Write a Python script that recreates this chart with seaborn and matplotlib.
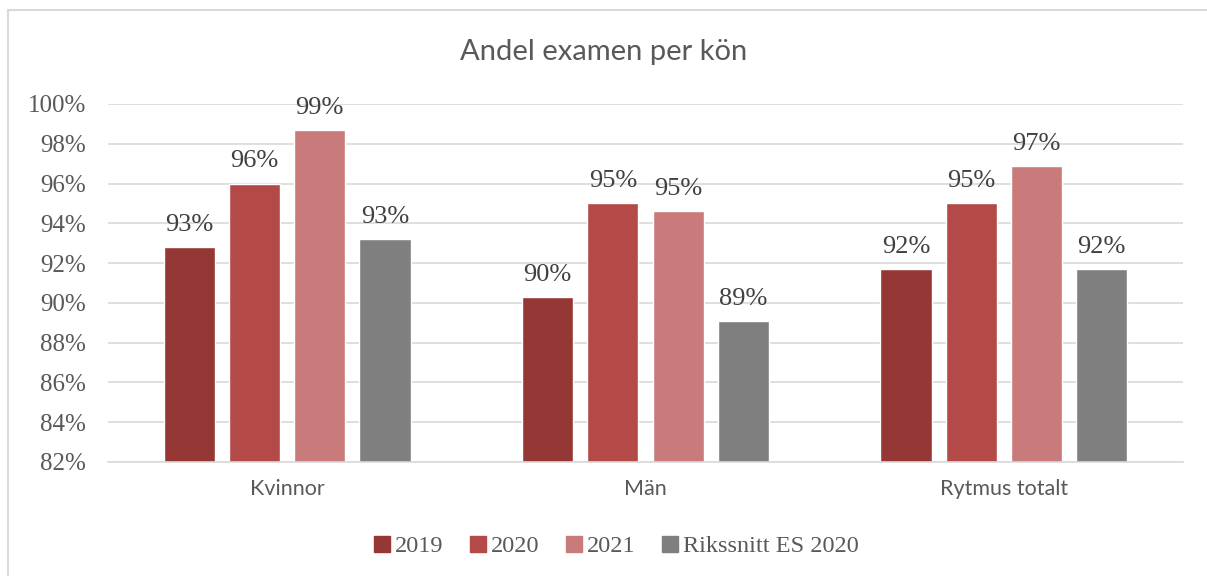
import pandas as pd
import seaborn as sns
import matplotlib.pyplot as plt
from matplotlib.patches import Rectangle
from matplotlib.lines import Line2D
from matplotlib.ticker import FuncFormatter

categories = ['Kvinnor', 'Män', 'Rytmus totalt']
series_names = ['2019', '2020', '2021', 'Rikssnitt ES 2020']
values_2019 = [92.8, 90.3, 91.7]
values_2020 = [96.0, 95.0, 95.0]
values_2021 = [98.7, 94.6, 96.9]
values_riks = [93.2, 89.1, 91.7]
y_ticks = [82, 84, 86, 88, 90, 92, 94, 96, 98, 100]

colors = ['#953735', '#B34A48', '#C97B7B', '#7F7F7F']
text_color = '#595959'
grid_color = '#D9D9D9'

table_data = {'kategori': [], 'serie': [], 'andel': []}
for name, vals in zip(series_names, [values_2019, values_2020, values_2021, values_riks]):
  for cat, v in zip(categories, vals):
    table_data['kategori'].append(cat)
    table_data['serie'].append(name)
    table_data['andel'].append(v)
df = pd.DataFrame(table_data)

sns.set_style('white')
plt.rcParams['font.family'] = ['Liberation Serif', 'DejaVu Serif']

fig = plt.figure(figsize=(12.07, 5.76), dpi=100)
ax = fig.add_axes([108/1207, 1-462/576, (1183-108)/1207, (462-104)/576])

sns.barplot(data=df, x='kategori', y='andel', hue='serie', palette=colors,
            width=0.728, gap=0.215, ax=ax, legend=False, saturation=1,
            errorbar=None)

ax.set_ylim(82, 100)
ax.set_yticks(y_ticks)
ax.yaxis.set_major_formatter(FuncFormatter(lambda v, p: '{:.0f}%'.format(v)))
ax.grid(axis='y', color=grid_color, linewidth=1.2)
ax.set_axisbelow(True)
for s in ['top', 'right', 'left']:
  ax.spines[s].set_visible(False)
ax.spines['bottom'].set_color(grid_color)
ax.spines['bottom'].set_linewidth(1.2)
ax.set_xlabel('')
ax.set_ylabel('')
ax.tick_params(axis='y', labelsize=18, colors=text_color, length=0, pad=16)
ax.tick_params(axis='x', length=0, pad=12)
for lbl in ax.get_xticklabels():
  lbl.set_fontfamily('Lato')
  lbl.set_fontsize(15.5)
  lbl.set_color(text_color)

for cont in ax.containers:
  ax.bar_label(cont, labels=['{:.0f}%'.format(b.get_height()) for b in cont],
               padding=8, fontsize=19, color='#404040')

fig.text(0.5, 1-52/576, 'Andel examen per kön', ha='center', va='center',
         fontsize=21, color=text_color, family='Lato')

handles = [Line2D([], [], marker='s', linestyle='', markersize=11,
                  markerfacecolor=c, markeredgecolor=c) for c in colors]
fig.legend(handles, series_names, loc='center', bbox_to_anchor=(0.509, 1-546/576),
           ncol=4, frameon=False, fontsize=17.5, handletextpad=0.05,
           columnspacing=0.9, labelcolor=text_color, handlelength=1.0)

fig.patches.append(Rectangle((8/1207, -0.1), 1.2, 1.1 - 10/576, transform=fig.transFigure,
                             fill=False, edgecolor=grid_color, linewidth=1.5))

plt.savefig('out.png', dpi=100)
